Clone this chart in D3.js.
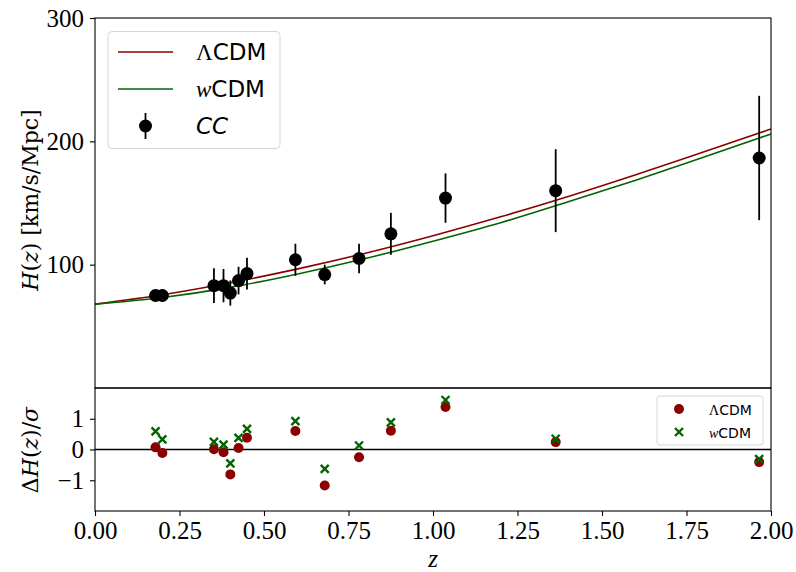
<!DOCTYPE html>
<html><head><meta charset="utf-8">
<script src="https://cdn.jsdelivr.net/npm/d3@7"></script>
<style>body{margin:0;background:#fff}svg{display:block}</style>
</head><body>
<svg id="c" width="796" height="572"></svg>
<script>
// ---- data ----
const ccZ   = [0.1791, 0.1993, 0.3519, 0.3802, 0.4004, 0.4247, 0.4497, 0.5929, 0.6797, 0.7812, 0.8754, 1.037, 1.363, 1.965];
const ccH   = [75, 75, 83, 83, 77, 87.1, 92.8, 104, 92, 105, 125, 154, 160, 186.5];
const ccErr = [4, 5, 14, 13.5, 10.2, 11.2, 12.9, 13, 8, 12, 17, 20, 33.6, 50.4];
const resLCDM = [0.07, -0.11, 0.01, -0.09, -0.81, 0.05, 0.38, 0.60, -1.17, -0.25, 0.61, 1.38, 0.24, -0.41];
const resWCDM = [0.59, 0.33, 0.25, 0.16, -0.45, 0.38, 0.67, 0.92, -0.63, 0.13, 0.88, 1.61, 0.35, -0.31];
const modelZ    = [0, 0.2, 0.4, 0.6, 0.8, 1.0, 1.2, 1.4, 1.6, 1.8, 2.0];
const modelLCDM = [68, 75.6, 85.3, 96.6, 109.3, 123.5, 138.8, 155.3, 172.9, 191.4, 210];
const modelWCDM = [68, 73.4, 81.6, 92.5, 105, 119, 134, 151, 168.5, 187, 206];
const xTicks    = [0, 0.25, 0.5, 0.75, 1.0, 1.25, 1.5, 1.75, 2.0];
const yTopTicks = [100, 200, 300];
const yBotTicks = [-1, 0, 1];

const RED = "#8b0000", GREEN = "#006400";
const SERIF = "'Liberation Serif','DejaVu Serif',serif";
const SERIF2 = "'DejaVu Serif','Liberation Serif',serif";
const SANS = "'DejaVu Sans','Liberation Sans',sans-serif";

const svg = d3.select("#c");
const L = 95, R = 771, T = 18, M = 388, B = 511;
const x = d3.scaleLinear().domain([0, 2]).range([L, R]);
const yT = d3.scaleLinear().domain([0, 300]).range([M, T]);
const yB = d3.scaleLinear().domain([-2, 2]).range([B, M]);

svg.append("defs").append("clipPath").attr("id","clipT")
  .append("rect").attr("x",L).attr("y",T).attr("width",R-L).attr("height",M-T);

// ---- top panel ----
const gT = svg.append("g");
const line = (ys) => d3.line().x((d,i)=>x(modelZ[i])).y((d,i)=>yT(ys[i])).curve(d3.curveMonotoneX)(ys);
gT.append("path").attr("d", line(modelLCDM)).attr("fill","none").attr("stroke",RED).attr("stroke-width",1.6).attr("clip-path","url(#clipT)");
gT.append("path").attr("d", line(modelWCDM)).attr("fill","none").attr("stroke",GREEN).attr("stroke-width",1.6).attr("clip-path","url(#clipT)");

const cc = ccZ.map((z,i)=>({z, h:ccH[i], e:ccErr[i]}));
gT.selectAll("line.err").data(cc).join("line")
  .attr("x1",d=>x(d.z)).attr("x2",d=>x(d.z))
  .attr("y1",d=>yT(d.h-d.e)).attr("y2",d=>yT(d.h+d.e))
  .attr("stroke","#000").attr("stroke-width",1.8);
gT.selectAll("circle.cc").data(cc).join("circle")
  .attr("cx",d=>x(d.z)).attr("cy",d=>yT(d.h)).attr("r",6.5).attr("fill","#000");

// top axes
const axT = d3.axisLeft(yT).tickValues(yTopTicks).tickSize(5).tickPadding(6);
const gAxT = svg.append("g").attr("transform",`translate(${L},0)`).call(axT);
gAxT.select(".domain").remove();
gAxT.selectAll("text").attr("font-family",SERIF).attr("font-size",25).attr("fill","#000");
gAxT.selectAll("line").attr("stroke","#000").attr("stroke-width",1.1);

// ---- bottom panel ----
const gB = svg.append("g");
gB.append("line").attr("x1",L).attr("x2",R).attr("y1",yB(0)).attr("y2",yB(0)).attr("stroke","#000").attr("stroke-width",1.5);
const res = ccZ.map((z,i)=>({z, a:resLCDM[i], b:resWCDM[i]}));
gB.selectAll("circle.r").data(res).join("circle")
  .attr("cx",d=>x(d.z)).attr("cy",d=>yB(d.a)).attr("r",5).attr("fill",RED);
const xs = 4;
gB.selectAll("path.w").data(res).join("path")
  .attr("d",d=>{const cx=x(d.z), cy=yB(d.b); return `M${cx-xs},${cy-xs}L${cx+xs},${cy+xs}M${cx-xs},${cy+xs}L${cx+xs},${cy-xs}`;})
  .attr("stroke",GREEN).attr("stroke-width",2.4).attr("fill","none");

const axB = d3.axisLeft(yB).tickValues(yBotTicks).tickSize(5).tickPadding(6).tickFormat(d=> d<0 ? "\u2212"+Math.abs(d) : d);
const gAxB = svg.append("g").attr("transform",`translate(${L},0)`).call(axB);
gAxB.select(".domain").remove();
gAxB.selectAll("text").attr("font-family",SERIF).attr("font-size",25).attr("fill","#000");
gAxB.selectAll("line").attr("stroke","#000").attr("stroke-width",1.1);

const axX = d3.axisBottom(x).tickValues(xTicks).tickSize(5).tickPadding(5).tickFormat(d3.format(".2f"));
const gAxX = svg.append("g").attr("transform",`translate(0,${B})`).call(axX);
gAxX.select(".domain").remove();
gAxX.selectAll("text").attr("font-family",SERIF).attr("font-size",25).attr("fill","#000");
gAxX.selectAll("line").attr("stroke","#000").attr("stroke-width",1.1);

// frames
svg.append("rect").attr("x",L).attr("y",T).attr("width",R-L).attr("height",M-T).attr("fill","none").attr("stroke","#000").attr("stroke-width",1.1);
svg.append("rect").attr("x",L).attr("y",M).attr("width",R-L).attr("height",B-M).attr("fill","none").attr("stroke","#000").attr("stroke-width",1.1);

// ---- top legend ----
const lg = svg.append("g");
lg.append("rect").attr("x",108).attr("y",31.5).attr("width",172).attr("height",117).attr("rx",4)
  .attr("fill","#fff").attr("fill-opacity",0.8).attr("stroke","#d6d6d6").attr("stroke-width",1);
lg.append("line").attr("x1",118).attr("x2",173).attr("y1",52).attr("y2",52).attr("stroke",RED).attr("stroke-width",1.6);
lg.append("line").attr("x1",118).attr("x2",173).attr("y1",89).attr("y2",89).attr("stroke",GREEN).attr("stroke-width",1.6);
lg.append("line").attr("x1",145.5).attr("x2",145.5).attr("y1",113).attr("y2",139).attr("stroke","#000").attr("stroke-width",1.8);
lg.append("circle").attr("cx",145.5).attr("cy",126).attr("r",6.5).attr("fill","#000");
const t1 = lg.append("text").attr("x",196).attr("y",60).attr("font-size",23);
t1.append("tspan").attr("font-family",SERIF).text("\u039B");
t1.append("tspan").attr("font-family",SANS).text("CDM");
const t2 = lg.append("text").attr("x",196).attr("y",97).attr("font-size",23);
t2.append("tspan").attr("font-family",SERIF).attr("font-style","italic").text("w");
t2.append("tspan").attr("font-family",SANS).text("CDM");
lg.append("text").attr("x",196).attr("y",134).attr("font-size",23).attr("font-family",SANS).attr("font-style","italic").text("CC");

// ---- bottom legend ----
const lb = svg.append("g");
lb.append("rect").attr("x",657).attr("y",396).attr("width",106).attr("height",49).attr("rx",3)
  .attr("fill","#fff").attr("fill-opacity",0.8).attr("stroke","#d6d6d6").attr("stroke-width",1);
lb.append("circle").attr("cx",679).attr("cy",409).attr("r",5).attr("fill",RED);
lb.append("path").attr("d",`M${679-xs},${432-xs}L${679+xs},${432+xs}M${679-xs},${432+xs}L${679+xs},${432-xs}`)
  .attr("stroke",GREEN).attr("stroke-width",2.4);
const b1 = lb.append("text").attr("x",709).attr("y",414.5).attr("font-size",14);
b1.append("tspan").attr("font-family",SERIF).text("\u039B");
b1.append("tspan").attr("font-family",SANS).text("CDM");
const b2 = lb.append("text").attr("x",709).attr("y",437.5).attr("font-size",14);
b2.append("tspan").attr("font-family",SERIF).attr("font-style","italic").text("w");
b2.append("tspan").attr("font-family",SANS).text("CDM");

// ---- axis labels ----
const yl = svg.append("text").attr("transform","translate(38,200) rotate(-90)").attr("text-anchor","middle")
  .attr("font-family",SERIF2).attr("font-size",22);
yl.append("tspan").attr("font-style","italic").text("H");
yl.append("tspan").text("(");
yl.append("tspan").attr("font-style","italic").text("z");
yl.append("tspan").text(") [km/s/Mpc]");
const yl2 = svg.append("text").attr("transform","translate(38,450) rotate(-90)").attr("text-anchor","middle")
  .attr("font-family",SERIF2).attr("font-size",22);
yl2.append("tspan").text("\u0394");
yl2.append("tspan").attr("font-style","italic").text("H");
yl2.append("tspan").text("(");
yl2.append("tspan").attr("font-style","italic").text("z");
yl2.append("tspan").text(")/");
yl2.append("tspan").attr("font-style","italic").text("\u03C3");
svg.append("text").attr("x",433).attr("y",567).attr("text-anchor","middle")
  .attr("font-family",SERIF).attr("font-size",25).attr("font-style","italic").text("z");
</script>
</body></html>
